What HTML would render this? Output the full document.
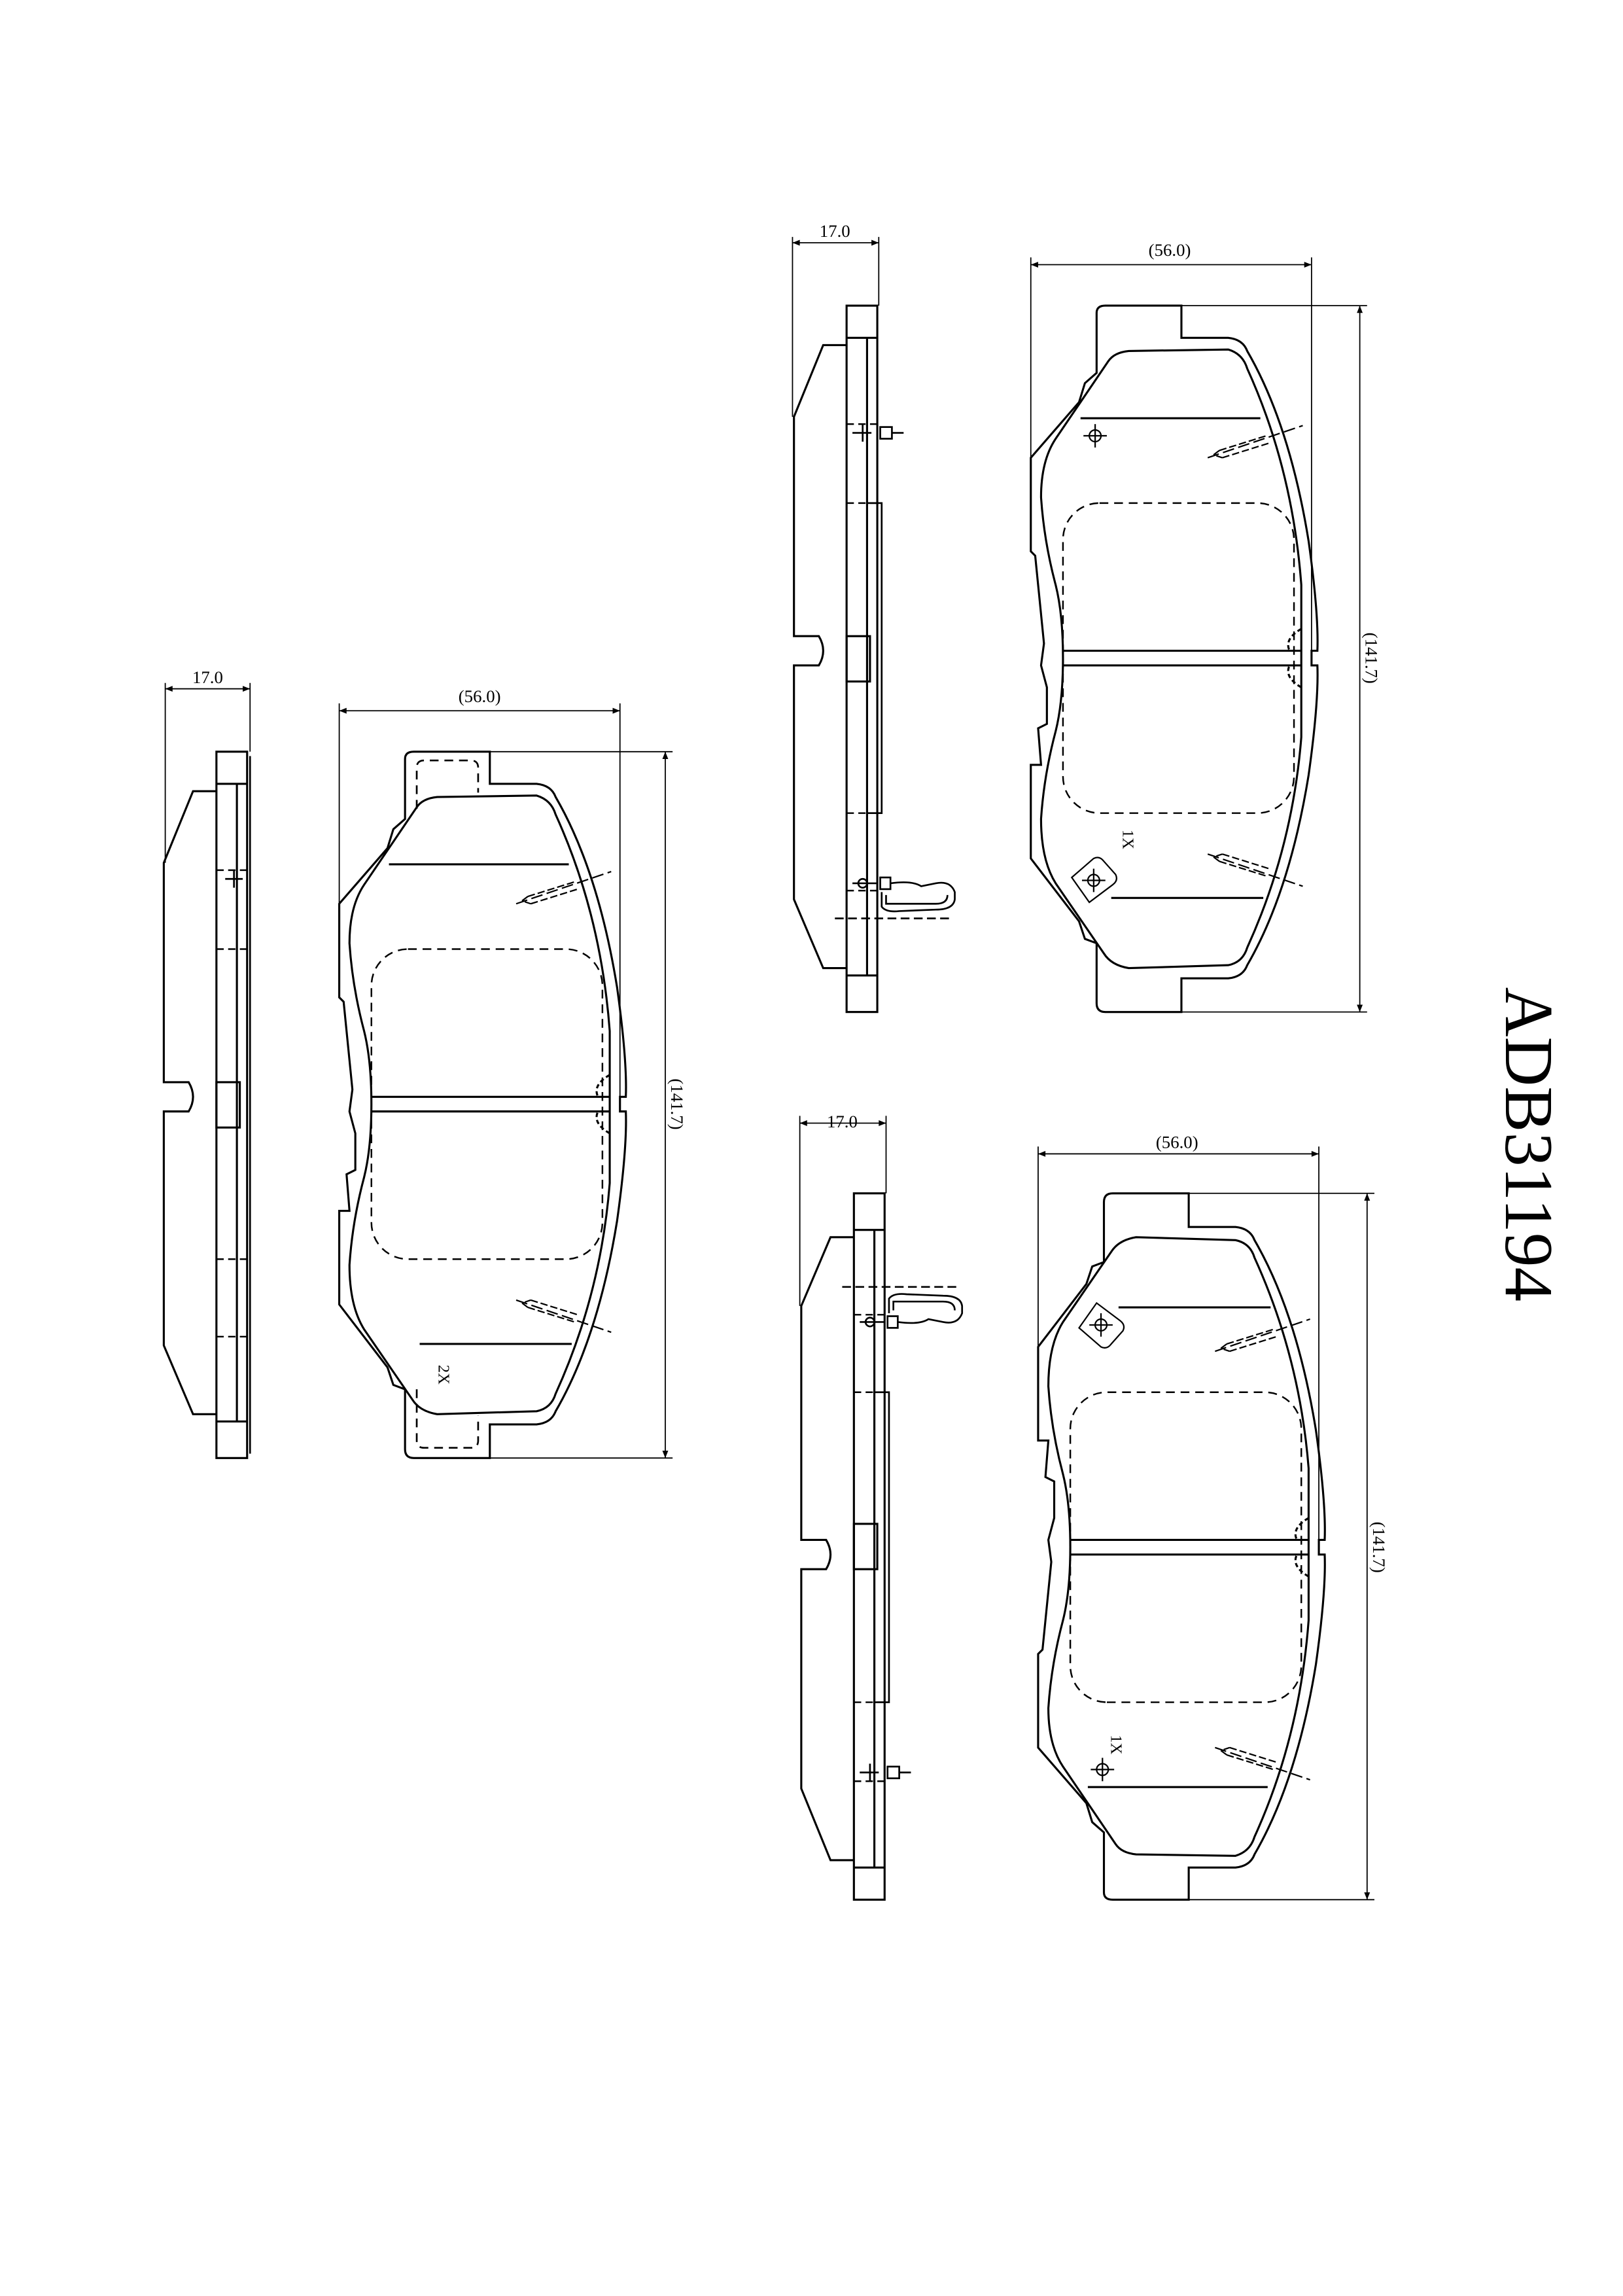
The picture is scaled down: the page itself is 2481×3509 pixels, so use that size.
<!DOCTYPE html>
<html><head><meta charset="utf-8"><style>html,body{margin:0;padding:0;background:#fff}svg{display:block}</style></head>
<body>
<svg width="2481" height="3509" viewBox="0 0 1110 1570" xmlns="http://www.w3.org/2000/svg" font-family="Liberation Serif, serif">
<defs>
<marker id="ar" viewBox="0 0 10 10" refX="10" refY="5" markerWidth="8" markerHeight="5" orient="auto-start-reverse" markerUnits="userSpaceOnUse"><path d="M0,1 L10,5 L0,9 Z" fill="#000"/></marker>

<g id="sidebase" fill="none" stroke="#000" stroke-width="1.4">
  <rect x="579" y="209" width="21" height="483"/>
  <line x1="593" y1="231" x2="593" y2="667"/>
  <line x1="579" y1="231" x2="600" y2="231"/>
  <line x1="579" y1="667" x2="600" y2="667"/>
  <path d="M579,236 L563,236 L543,285 L543,435 L560,435 Q566,445 560,455 L543,455 L543,615 L563,662 L579,662"/>
  <rect x="579" y="435" width="16" height="31"/>
  <g stroke-dasharray="5,3" stroke-width="1.1">
    <line x1="579" y1="290" x2="600" y2="290"/>
    <line x1="579" y1="344" x2="600" y2="344"/>
    <line x1="579" y1="556" x2="600" y2="556"/>
    <line x1="579" y1="609" x2="600" y2="609"/>
  </g>
</g>
<g id="sideparts" fill="none" stroke="#000" stroke-width="1.2">
  <rect x="593" y="344" width="10" height="212"/>
  <line x1="583" y1="296" x2="596" y2="296"/><line x1="590" y1="290" x2="590" y2="302"/>
  <rect x="602" y="292" width="8" height="8"/><line x1="610" y1="296" x2="618" y2="296"/>
  <circle cx="590" cy="604" r="3"/><line x1="583" y1="604" x2="600" y2="604"/>
  <rect x="602" y="600" width="7" height="8"/>
  <path d="M603,610 L603,620 Q606,624 615,623 L640,622 Q652,622 653,615 L653,610 Q650,602 640,604 L630,606 Q624,602 609,604"/>
  <path d="M606,612 L606,618 L640,618 Q648,618 648,612"/>
  <line x1="571" y1="628" x2="650" y2="628" stroke-dasharray="6,3"/>
</g>

<g id="frontbase" fill="none" stroke="#000" stroke-width="1.4">
  <path d="M750,255 L750,214 Q750,209 756,209 L808,209 L808,231 L840,231 Q850,232 853,240 Q882,290 895,370 Q902,420 901,445 L897,445 L897,455 L901,455 Q902,480 895,530 Q882,610 853,660 Q850,668 840,669 L808,669 L808,692 L756,692 Q750,692 750,686 L750,645 L742,642 L738,630 L705,587 L705,523 L712,523 L710,498 L716,495 L716,470 L712,455 L714,440 L712,420 L710,400 L708,380 L705,377 L705,313 L738,275 L742,262 Z"/>
  <path d="M758,247 Q762,241 772,240 L840,239 Q850,242 853,252 Q884,320 890,400 L890,504 Q884,580 853,648 Q850,658 840,660 L772,662 Q760,660 755,652 L722,604 Q712,588 712,560 Q714,530 722,500 Q727,480 727,450 Q727,420 722,400 Q714,370 712,340 Q712,315 722,300 Z"/>
  <rect x="727" y="344" width="158" height="212" rx="25" stroke-dasharray="6,4" stroke-width="1.1"/>
  <line x1="739" y1="286" x2="862" y2="286"/>
  <line x1="760" y1="614" x2="864" y2="614"/>
  <line x1="727" y1="445" x2="890" y2="445"/>
  <line x1="727" y1="455" x2="890" y2="455"/>
  <path d="M890,430 Q878,437 882,445 M890,470 Q878,463 882,455" stroke-dasharray="3,2"/>
  <g stroke-width="1">
    <line x1="826" y1="313" x2="891" y2="291" stroke-dasharray="8,3"/>
    <path d="M834,308 L866,298 M836,313 L868,303 M834,308 L830,311 L836,313" stroke-dasharray="5,2"/>
    <line x1="826" y1="584" x2="891" y2="606" stroke-dasharray="8,3"/>
    <path d="M834,589 L866,599 M836,584 L868,594 M834,589 L830,586 L836,584" stroke-dasharray="5,2"/>
  </g>
</g>
<g id="marks" fill="none" stroke="#000" stroke-width="1">
  <circle cx="749" cy="298" r="4"/><line x1="741" y1="298" x2="757" y2="298"/><line x1="749" y1="290" x2="749" y2="306"/>
  <circle cx="748" cy="602" r="4"/><line x1="740" y1="602" x2="756" y2="602"/><line x1="748" y1="594" x2="748" y2="610"/>
  <path d="M733,600 L748,587 Q752,585 755,589 L763,598 Q765,602 761,605 L745,617 Z"/>
</g>
</defs>

<!-- Top right -->
<use href="#sidebase"/><use href="#sideparts"/>
<use href="#frontbase"/><use href="#marks"/>
<g stroke="#000" stroke-width="0.8" fill="none">
  <line x1="542" y1="162" x2="542" y2="285"/><line x1="601" y1="162" x2="601" y2="209"/>
  <line x1="542" y1="166" x2="601" y2="166" marker-start="url(#ar)" marker-end="url(#ar)"/>
  <line x1="705" y1="176" x2="705" y2="313"/><line x1="897" y1="176" x2="897" y2="445"/>
  <line x1="705" y1="181" x2="897" y2="181" marker-start="url(#ar)" marker-end="url(#ar)"/>
  <line x1="808" y1="209" x2="935" y2="209"/><line x1="808" y1="692" x2="935" y2="692"/>
  <line x1="930" y1="209" x2="930" y2="692" marker-start="url(#ar)" marker-end="url(#ar)"/>
</g>
<text x="571" y="162" font-size="12" text-anchor="middle">17.0</text>
<text x="800" y="175" font-size="12" text-anchor="middle">(56.0)</text>
<text transform="translate(934,450) rotate(90)" font-size="12" text-anchor="middle">(141.7)</text>
<text transform="translate(768,574) rotate(90)" font-size="11" text-anchor="middle">1X</text>

<!-- Bottom right (flipped) -->
<g transform="translate(5,1508) scale(1,-1)">
  <use href="#sidebase"/><use href="#sideparts"/>
  <use href="#frontbase"/><use href="#marks"/>
  <g stroke="#000" stroke-width="0.8" fill="none">
    <line x1="542" y1="615" x2="542" y2="745"/><line x1="601" y1="692" x2="601" y2="745"/>
    <line x1="542" y1="740" x2="601" y2="740" marker-start="url(#ar)" marker-end="url(#ar)"/>
    <line x1="705" y1="587" x2="705" y2="724"/><line x1="897" y1="455" x2="897" y2="724"/>
    <line x1="705" y1="719" x2="897" y2="719" marker-start="url(#ar)" marker-end="url(#ar)"/>
    <line x1="808" y1="209" x2="935" y2="209"/><line x1="808" y1="692" x2="935" y2="692"/>
    <line x1="930" y1="209" x2="930" y2="692" marker-start="url(#ar)" marker-end="url(#ar)"/>
  </g>
</g>
<text x="576" y="771" font-size="12" text-anchor="middle">17.0</text>
<text x="805" y="785" font-size="12" text-anchor="middle">(56.0)</text>
<text transform="translate(939,1058) rotate(90)" font-size="12" text-anchor="middle">(141.7)</text>
<text transform="translate(760,1193) rotate(90)" font-size="11" text-anchor="middle">1X</text>

<!-- Left -->
<g transform="translate(-431,305)">
  <use href="#sidebase"/>
  <g fill="none" stroke="#000" stroke-width="1.2">
    <line x1="602" y1="212" x2="602" y2="689"/>
    <line x1="585" y1="296" x2="597" y2="296"/><line x1="591" y1="290" x2="591" y2="302"/>
  </g>
</g>
<g transform="translate(-473,305)"><use href="#frontbase"/></g>
<g stroke="#000" stroke-width="0.8" fill="none">
  <line x1="113" y1="467" x2="113" y2="590"/><line x1="171" y1="467" x2="171" y2="514"/>
  <line x1="113" y1="471" x2="171" y2="471" marker-start="url(#ar)" marker-end="url(#ar)"/>
  <line x1="232" y1="481" x2="232" y2="618"/><line x1="424" y1="481" x2="424" y2="750"/>
  <line x1="232" y1="486" x2="424" y2="486" marker-start="url(#ar)" marker-end="url(#ar)"/>
  <line x1="335" y1="514" x2="460" y2="514"/><line x1="335" y1="997" x2="460" y2="997"/>
  <line x1="455" y1="514" x2="455" y2="997" marker-start="url(#ar)" marker-end="url(#ar)"/>
  <path d="M285,553 L285,525 Q285,520 290,520 L322,520 Q327,520 327,525 L327,542 M285,950 L285,985 Q285,990 290,990 L322,990 Q327,990 327,985 L327,968" stroke-dasharray="6,4" stroke-width="1.2"/>
</g>
<text x="142" y="467" font-size="12" text-anchor="middle">17.0</text>
<text x="328" y="480" font-size="12" text-anchor="middle">(56.0)</text>
<text transform="translate(459,755) rotate(90)" font-size="12" text-anchor="middle">(141.7)</text>
<text transform="translate(300,940) rotate(90)" font-size="11" text-anchor="middle">2X</text>

<text transform="translate(1030,675) rotate(90)" font-size="47">ADB31194</text>
</svg>
</body></html>
